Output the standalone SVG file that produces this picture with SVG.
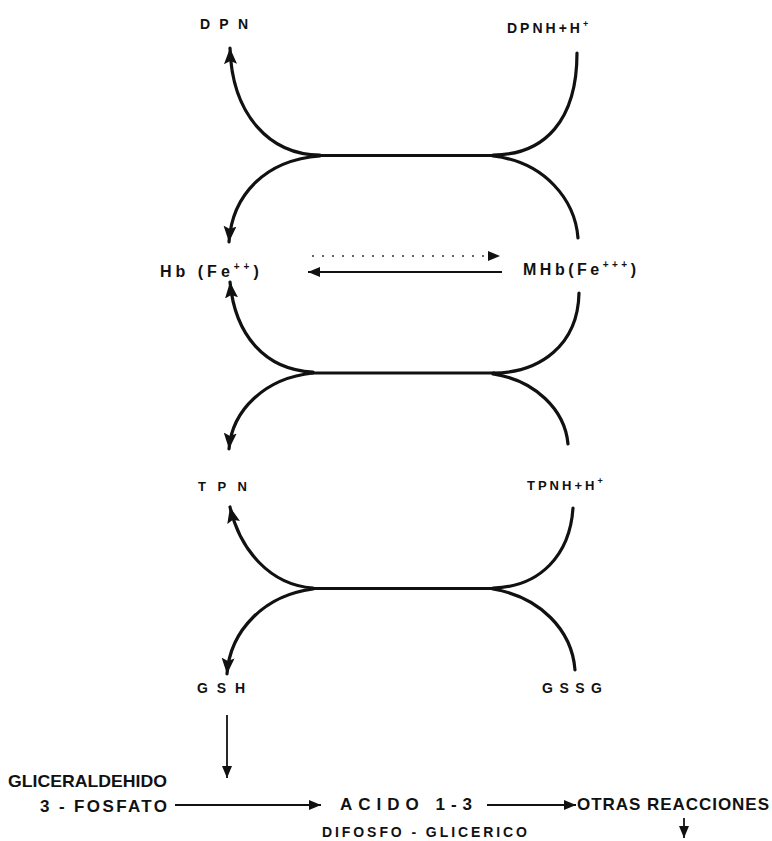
<svg xmlns="http://www.w3.org/2000/svg" width="772" height="841" viewBox="0 0 772 841">
  <style>
    .lbl { font-family: "Liberation Sans", Arial, sans-serif; font-weight: bold; fill: #111; }
    .arc { fill: none; stroke: #111; stroke-width: 3.2; stroke-linecap: round; }
    .bar { fill: none; stroke: #111; stroke-width: 2.8; }
    .thin { fill: none; stroke: #111; stroke-width: 1.8; }
    .dots { fill: none; stroke: #333; stroke-width: 1.6; stroke-dasharray: 2 8; }
  </style>
  <defs>
    <marker id="head" markerUnits="userSpaceOnUse" markerWidth="18" markerHeight="14" refX="16" refY="6.5" orient="auto">
      <path d="M0,0 L16,6.5 L0,13 L3,6.5 Z" fill="#111"/>
    </marker>
    <marker id="headSmall" markerUnits="userSpaceOnUse" markerWidth="14" markerHeight="12" refX="12" refY="5" orient="auto">
      <path d="M0,0 L12,5 L0,10 Z" fill="#111"/>
    </marker>
  </defs>
  <rect width="772" height="841" fill="#fff"/>

  <g id="dpn"><text class="lbl" x="200" y="29" font-size="14" textLength="48" lengthAdjust="spacing">DPN</text></g>
  <g id="dpnh"><text class="lbl" x="507" y="33" font-size="14" letter-spacing="3">DPNH+H<tspan font-size="9" dy="-6">+</tspan></text></g>

  <g id="hb"><text class="lbl" x="160" y="277" font-size="16" letter-spacing="4">Hb (Fe<tspan font-size="10" dy="-7">++</tspan><tspan dy="7">)</tspan></text></g>
  <g id="mhb"><text class="lbl" x="523" y="275" font-size="16" letter-spacing="3.5">MHb(Fe<tspan font-size="10" dy="-7">+++</tspan><tspan dy="7">)</tspan></text></g>

  <g id="tpn"><text class="lbl" x="198" y="491" font-size="13" textLength="49" lengthAdjust="spacing">TPN</text></g>
  <g id="tpnh"><text class="lbl" x="527" y="490" font-size="13" letter-spacing="3">TPNH+H<tspan font-size="9" dy="-6">+</tspan></text></g>

  <g id="gsh"><text class="lbl" x="197" y="693" font-size="14" textLength="48" lengthAdjust="spacing">GSH</text></g>
  <g id="gssg"><text class="lbl" x="542" y="693" font-size="14" textLength="60" lengthAdjust="spacing">GSSG</text></g>

  <g id="gliceraldehido">
    <text class="lbl" x="8" y="787" font-size="17" textLength="159" lengthAdjust="spacingAndGlyphs">GLICERALDEHIDO</text>
    <text class="lbl" x="40" y="812" font-size="17" textLength="127" lengthAdjust="spacing">3 - FOSFATO</text>
  </g>
  <g id="acido">
    <text class="lbl" x="340" y="810" font-size="17" textLength="132" lengthAdjust="spacing">ACIDO  1-3</text>
    <text class="lbl" x="322" y="837" font-size="14" textLength="205" lengthAdjust="spacing">DIFOSFO - GLICERICO</text>
  </g>
  <g id="otras"><text class="lbl" x="577" y="810" font-size="17" textLength="192" lengthAdjust="spacing">OTRAS REACCIONES</text></g>

  <g id="connectors">
    <!-- DPN / DPNH cycle -->
    <path class="arc" d="M320,155 C270,155 232,115 230,48" marker-end="url(#head)"/>
    <path class="arc" d="M577,53 C577,120 545,155 493,155"/>
    <line class="bar" x1="318" y1="155.5" x2="495" y2="155.5"/>
    <path class="arc" d="M320,156 C265,160 232,195 229,242" marker-end="url(#head)"/>
    <path class="arc" d="M493,156 C545,162 575,200 578,238"/>

    <!-- Hb / MHb exchange -->
    <line class="dots" x1="312" y1="256" x2="500" y2="256" marker-end="url(#headSmall)"/>
    <line class="thin" x1="502" y1="272" x2="308" y2="272" stroke-width="2.4" marker-end="url(#headSmall)"/>

    <!-- Hb / MHb to TPN cycle -->
    <path class="arc" d="M313,372 C265,370 235,335 230,282" marker-end="url(#head)"/>
    <path class="arc" d="M579,293 C578,345 540,373 493,373"/>
    <line class="bar" x1="311" y1="373" x2="495" y2="373"/>
    <path class="arc" d="M313,373 C265,378 232,410 229,449" marker-end="url(#head)"/>
    <path class="arc" d="M493,374 C535,380 565,410 568,444"/>

    <!-- TPN / GSH cycle -->
    <path class="arc" d="M313,588 C270,585 240,550 230,507" marker-end="url(#head)"/>
    <path class="arc" d="M573,508 C570,555 540,587 493,588"/>
    <line class="bar" x1="311" y1="588.5" x2="495" y2="588.5"/>
    <path class="arc" d="M313,589 C265,595 230,630 227,674" marker-end="url(#head)"/>
    <path class="arc" d="M493,589 C540,597 572,630 575,670"/>

    <!-- GSH to glycolysis -->
    <line class="thin" x1="227" y1="715" x2="227" y2="778" marker-end="url(#headSmall)"/>
    <line class="thin" x1="175" y1="805" x2="321" y2="805" marker-end="url(#headSmall)"/>
    <line class="thin" x1="487" y1="805" x2="576" y2="805" marker-end="url(#headSmall)"/>
    <line class="thin" x1="684" y1="818" x2="684" y2="838" stroke-width="1.5" marker-end="url(#headSmall)"/>
  </g>
</svg>
